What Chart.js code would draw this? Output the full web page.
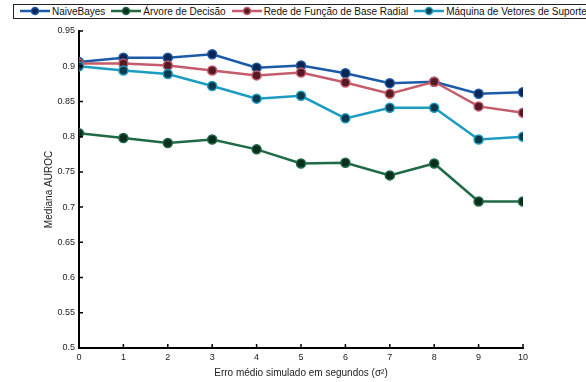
<!DOCTYPE html>
<html>
<head>
<meta charset="utf-8">
<script src="https://cdn.jsdelivr.net/npm/chart.js@4"></script>
<style>
  body { margin: 0; overflow: hidden; background: #fff; }
  #wrap { position: relative; width: 586px; height: 382px; overflow: hidden; }
  #legend {
    position: absolute; left: 13px; top: 4px; width: 640px; height: 13px;
    border: 1px solid #222; background: #fff; white-space: nowrap;
    font: 10px "Liberation Sans", Arial, sans-serif; color: #111; line-height: 13px;
  }
  #legend .item { display: inline-block; margin-left: 6px; }
  #legend canvas { vertical-align: middle; margin-right: 2px; position: relative; top: -1px; }
</style>
</head>
<body>
<div id="wrap">
  <canvas id="chart" width="586" height="382"></canvas>
  <div id="legend"></div>
</div>
<script>
const errors = [0, 1, 2, 3, 4, 5, 6, 7, 8, 9, 10]
const naiveBayes = [0.906, 0.912, 0.912, 0.917, 0.898, 0.901, 0.890, 0.876, 0.878, 0.861, 0.863]
const arvore = [0.805, 0.798, 0.791, 0.796, 0.782, 0.762, 0.763, 0.745, 0.762, 0.708, 0.708]
const redeRadial = [0.904, 0.904, 0.901, 0.894, 0.887, 0.891, 0.877, 0.861, 0.878, 0.843, 0.834]
const maquinaVetores = [0.900, 0.894, 0.889, 0.872, 0.854, 0.858, 0.826, 0.841, 0.841, 0.796, 0.800]
const seriesNames = ["NaiveBayes", "Árvore de Decisão", "Rede de Função de Base Radial", "Máquina de Vetores de Suporte"]
const yTicks = [0.5, 0.55, 0.6, 0.65, 0.7, 0.75, 0.8, 0.85, 0.9, 0.95]

const lineColors = ["#1c5aa8", "#1f6a45", "#c45c6c", "#1d9cc2"]
const markColors = ["#0b2652", "#0c2e1e", "#561a24", "#0c3a4c"]

const font = "'Liberation Sans', Arial, sans-serif"

function toPoints(values) {
  return values.map((v, i) => ({ x: errors[i], y: v }))
}

const dataSeries = [naiveBayes, arvore, redeRadial, maquinaVetores]

// matlab style ticks pointing into the plot
const inwardTicks = {
  id: 'inwardTicks',
  afterDraw(chart) {
    const { ctx, scales: { x, y }, chartArea } = chart
    ctx.save()
    ctx.strokeStyle = '#000'
    ctx.lineWidth = 1.5
    ctx.beginPath()
    yTicks.forEach(v => {
      const py = y.getPixelForValue(v)
      ctx.moveTo(chartArea.left, py)
      ctx.lineTo(chartArea.left + 4, py)
    })
    errors.forEach(v => {
      const px = x.getPixelForValue(v)
      ctx.moveTo(px, chartArea.bottom)
      ctx.lineTo(px, chartArea.bottom - 4)
    })
    ctx.stroke()
    ctx.restore()
  }
}

const chart = new Chart(document.getElementById('chart'), {
  type: 'line',
  data: {
    datasets: dataSeries.map((values, i) => ({
      label: seriesNames[i],
      data: toPoints(values),
      borderColor: lineColors[i],
      borderWidth: 2.5,
      pointRadius: 4.5,
      pointBorderWidth: 1.5,
      pointBackgroundColor: markColors[i],
      pointBorderColor: lineColors[i],
      order: 3 - i
    }))
  },
  options: {
    responsive: false,
    animation: false,
    layout: { padding: { top: 31, right: 63, left: 40, bottom: 0 } },
    plugins: { legend: { display: false }, tooltip: { enabled: false } },
    scales: {
      x: {
        type: 'linear',
        min: 0,
        max: 10,
        grid: { display: false, tickLength: 0 },
        border: { display: true, color: '#000', width: 2 },
        ticks: { stepSize: 1, padding: 4, color: '#222', font: { family: font, size: 9 } },
        title: { display: true, text: 'Erro médio simulado em segundos (σ²)', color: '#222', padding: { top: 0, bottom: 3 }, font: { family: font, size: 10 } },
        afterFit(scale) { scale.height = 34 }
      },
      y: {
        min: 0.5,
        max: 0.95,
        afterBuildTicks(scale) { scale.ticks = yTicks.map(v => ({ value: v })) },
        grid: { display: false, tickLength: 0 },
        border: { display: true, color: '#000', width: 2 },
        ticks: {
          padding: 4, color: '#222', font: { family: font, size: 9 },
          callback: v => String(+v.toFixed(2))
        },
        title: { display: true, text: 'Mediana AUROC', color: '#222', padding: { top: 3, bottom: 0 }, font: { family: font, size: 10 } },
        afterFit(scale) { scale.width = 39 }
      }
    }
  },
  plugins: [inwardTicks]
})

// legend box drawn from the datasets
const legend = document.getElementById('legend')
chart.data.datasets.forEach(ds => {
  const item = document.createElement('span')
  item.className = 'item'
  const c = document.createElement('canvas')
  c.width = 30
  c.height = 10
  const g = c.getContext('2d')
  g.strokeStyle = ds.borderColor
  g.lineWidth = 2.5
  g.beginPath()
  g.moveTo(0, 5)
  g.lineTo(30, 5)
  g.stroke()
  g.fillStyle = ds.pointBackgroundColor
  g.strokeStyle = ds.pointBorderColor
  g.lineWidth = 1.5
  g.beginPath()
  g.arc(15, 5, 3.5, 0, Math.PI * 2)
  g.fill()
  g.stroke()
  item.appendChild(c)
  item.appendChild(document.createTextNode(ds.label))
  legend.appendChild(item)
})
</script>
</body>
</html>
